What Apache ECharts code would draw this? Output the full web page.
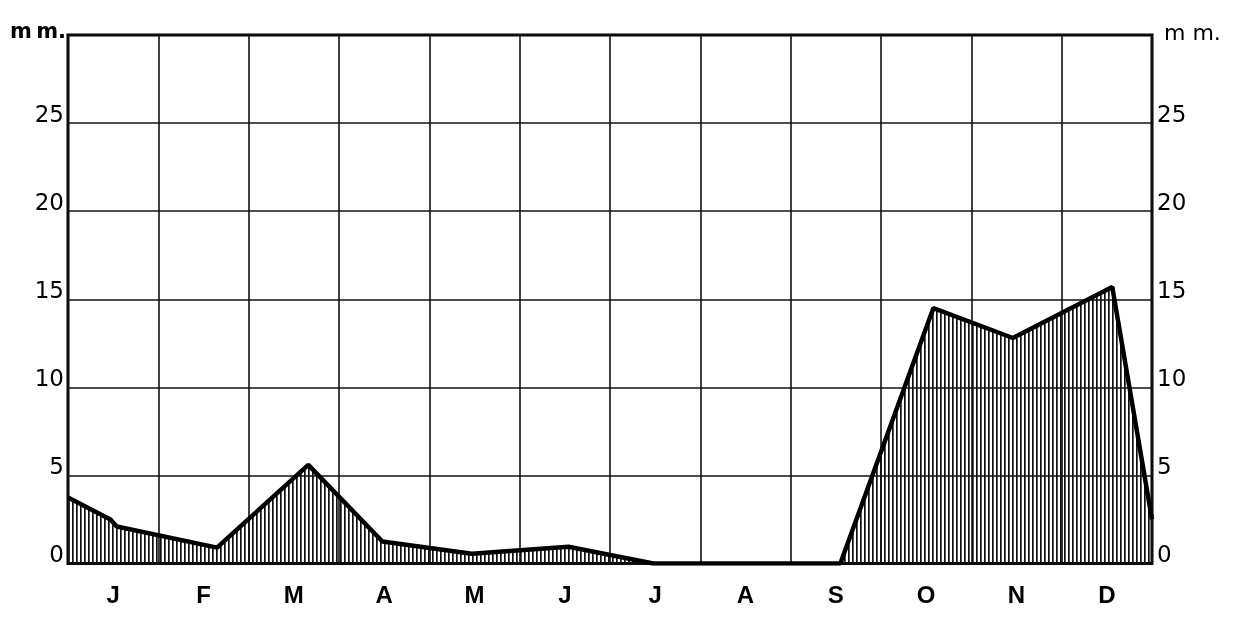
<!DOCTYPE html>
<html>
<head>
<meta charset="utf-8">
<script src="https://cdn.jsdelivr.net/npm/echarts@6/dist/echarts.min.js"></script>
<style>
  html, body { margin: 0; padding: 0; background: #fff; }
  #main { width: 1240px; height: 621px; }
</style>
</head>
<body>
<div id="main"></div>
<script>
// month initials along the bottom
const months = ['J', 'F', 'M', 'A', 'M', 'J', 'J', 'A', 'S', 'O', 'N', 'D'];
// position of each point in months from the start of January (0..12)
const pointMonth = [0, 0.47, 0.54, 1.65, 2.66, 3.48, 4.47, 5.54, 6.48, 8.55, 9.58, 10.46, 11.56, 12];
// rainfall in mm
const rainMm = [3.75, 2.5, 2.1, 0.9, 5.6, 1.25, 0.55, 0.95, 0, 0, 14.5, 12.8, 15.7, 2.5];

const seriesData = pointMonth.map(function (m, i) { return [m, rainMm[i]]; });

// vertical hatching for the area
function hatch() {
  var c = document.createElement('canvas');
  c.width = 4;
  c.height = 4;
  var ctx = c.getContext('2d');
  ctx.fillStyle = '#111';
  ctx.fillRect(0, 0, 1.7, 4);
  return c;
}

var chart = echarts.init(document.getElementById('main'), null, { renderer: 'canvas' });

var font = 'DejaVu Sans';
var yLabel = function (v) { return v === 30 ? '' : String(v); };

var option = {
  animation: false,
  backgroundColor: '#fff',
  grid: {
    left: 68,
    right: 88,
    top: 35,
    bottom: 57.5,
    show: true,
    borderColor: '#000',
    borderWidth: 3
  },
  xAxis: [{
    type: 'category',
    data: months,
    boundaryGap: true,
    axisLine: { show: false },
    axisTick: { show: false },
    axisLabel: {
      margin: 21,
      color: '#000',
      fontFamily: 'Liberation Sans',
      fontSize: 24,
      fontWeight: 'bold'
    },
    splitLine: { show: true, lineStyle: { color: '#111', width: 1.6 } }
  }, {
    type: 'value',
    min: 0,
    max: 12,
    show: false
  }],
  yAxis: [{
    type: 'value',
    position: 'left',
    min: 0,
    max: 30,
    interval: 5,
    name: 'm\u2009m.',
    nameLocation: 'end',
    nameGap: 2,
    nameTextStyle: {
      align: 'right',
      verticalAlign: 'middle',
      padding: [0, 2, 0, 0],
      color: '#000',
      fontFamily: font,
      fontSize: 21,
      fontWeight: 'bold'
    },
    axisLine: { show: false },
    axisTick: { show: false },
    axisLabel: {
      formatter: yLabel,
      margin: 4,
      verticalAlign: 'bottom',
      lineHeight: 15,
      color: '#000',
      fontFamily: font,
      fontSize: 23
    },
    splitLine: { show: true, lineStyle: { color: '#111', width: 1.6 } }
  }, {
    type: 'value',
    position: 'right',
    min: 0,
    max: 30,
    interval: 5,
    name: 'm m.',
    nameLocation: 'end',
    nameGap: 1,
    nameTextStyle: {
      align: 'left',
      verticalAlign: 'middle',
      padding: [0, 0, 0, 12],
      color: '#000',
      fontFamily: font,
      fontSize: 22
    },
    axisLine: { show: false },
    axisTick: { show: false },
    axisLabel: {
      formatter: yLabel,
      margin: 5,
      verticalAlign: 'bottom',
      lineHeight: 15,
      color: '#000',
      fontFamily: font,
      fontSize: 23
    },
    splitLine: { show: false }
  }],
  series: [{
    type: 'line',
    xAxisIndex: 1,
    yAxisIndex: 0,
    data: seriesData,
    symbol: 'none',
    smooth: false,
    lineStyle: { color: '#000', width: 4.5 },
    areaStyle: { color: { image: hatch(), repeat: 'repeat' }, opacity: 1 }
  }]
};

chart.setOption(option);
</script>
</body>
</html>
